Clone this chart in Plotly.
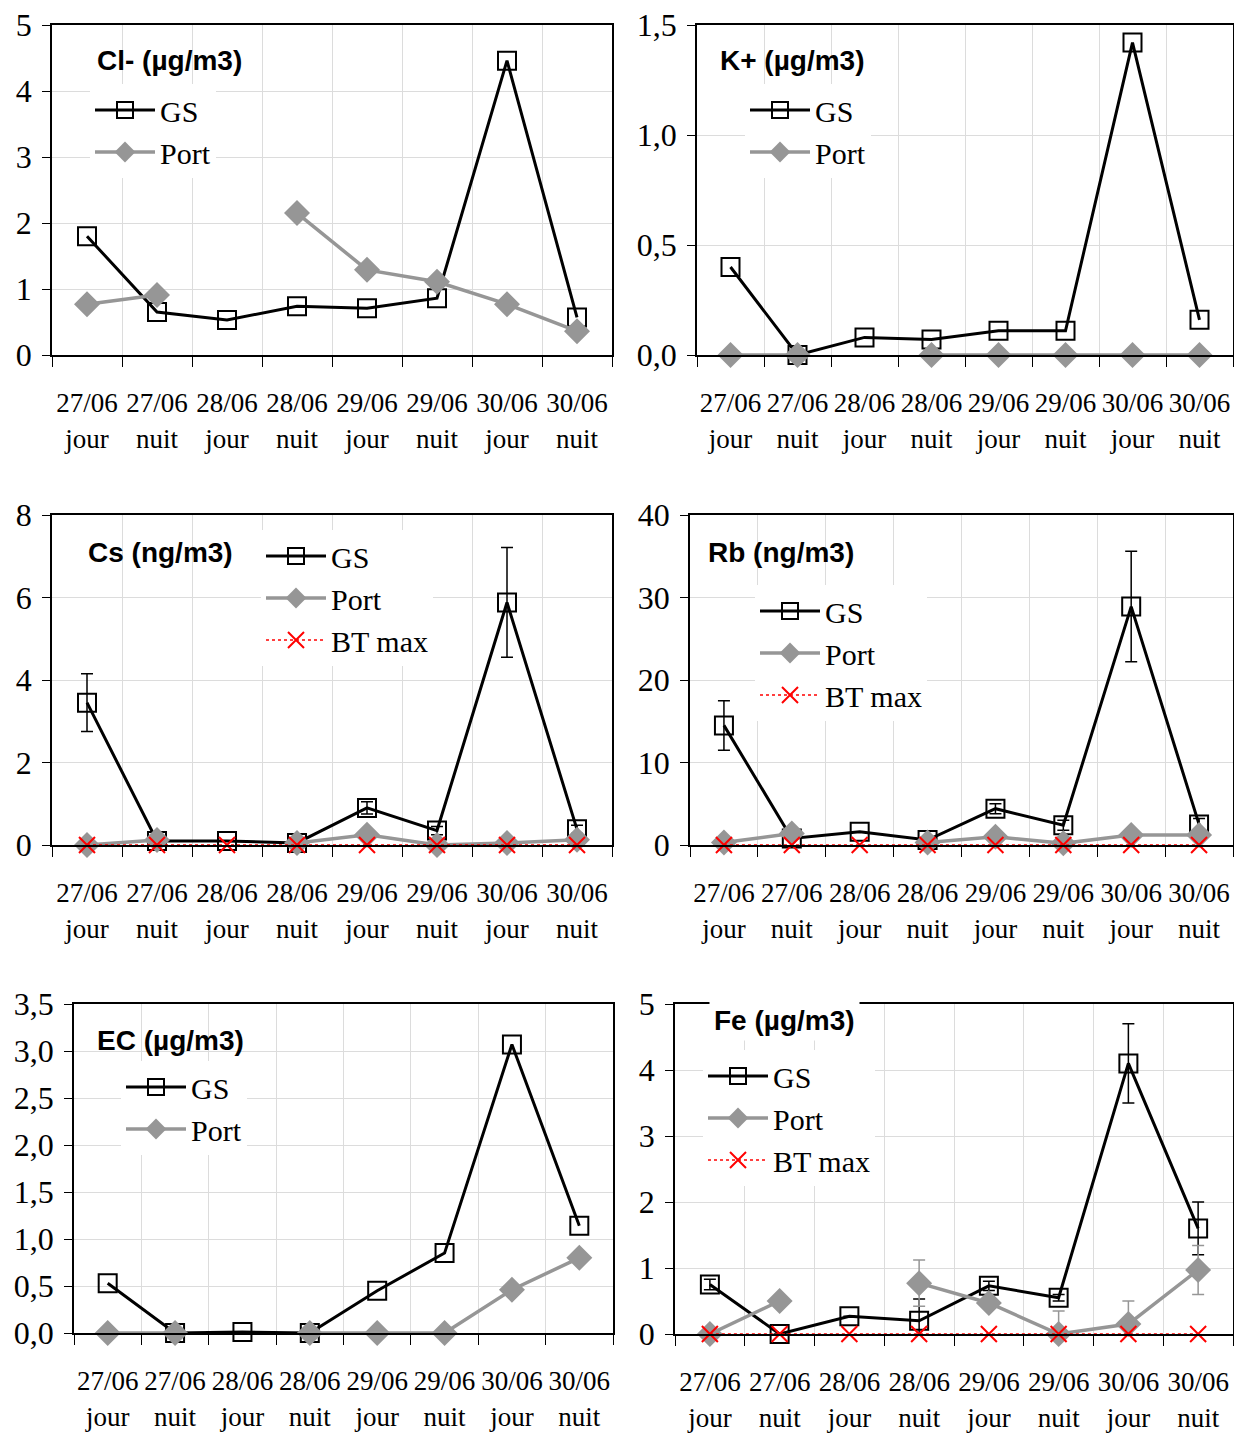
import plotly.graph_objects as go

W, H = 1234, 1437

categories = ["27/06<br>jour", "27/06<br>nuit", "28/06<br>jour", "28/06<br>nuit",
              "29/06<br>jour", "29/06<br>nuit", "30/06<br>jour", "30/06<br>nuit"]

# Cl- (µg/m3)
cl_gs = [1.80, 0.65, 0.53, 0.74, 0.71, 0.86, 4.46, 0.57]
cl_port = [0.77, 0.91, None, 2.15, 1.29, 1.11, 0.77, 0.36]

# K+ (µg/m3)
k_gs = [0.40, 0.00, 0.08, 0.07, 0.11, 0.11, 1.42, 0.16]
k_port = [0.0, 0.0, None, 0.0, 0.0, 0.0, 0.0, 0.0]

# Cs (ng/m3)
cs_gs = [3.45, 0.10, 0.10, 0.05, 0.90, 0.35, 5.88, 0.38]
cs_gs_err = [0.70, None, None, None, 0.15, 0.10, 1.33, 0.10]
cs_port = [0.0, 0.12, None, 0.05, 0.25, 0.0, 0.05, 0.13]
cs_bt = [0, 0, 0, 0, 0, 0, 0, 0]

# Rb (ng/m3)
rb_gs = [14.5, 0.8, 1.6, 0.6, 4.4, 2.4, 28.9, 2.5]
rb_gs_err = [3.0, None, None, None, 0.6, 0.6, 6.7, 0.7]
rb_port = [0.3, 1.4, None, 0.3, 1.0, 0.2, 1.2, 1.2]
rb_bt = [0, 0, 0, 0, 0, 0, 0, 0]

# EC (µg/m3)
ec_gs = [0.53, 0.0, 0.01, 0.0, 0.45, 0.85, 3.07, 1.14]
ec_port = [0.0, 0.0, None, 0.0, 0.0, 0.0, 0.46, 0.80]

# Fe (µg/m3)
fe_gs = [0.75, 0.0, 0.27, 0.20, 0.73, 0.55, 4.10, 1.60]
fe_gs_err = [0.08, None, None, 0.33, 0.07, 0.05, 0.60, 0.40]
fe_port = [0.0, 0.50, None, 0.77, 0.47, 0.0, 0.15, 0.97]
fe_port_err = [None, None, None, 0.35, None, 0.35, 0.35, 0.37]
fe_bt = [0, 0, 0, 0, 0, 0, 0, 0]

BLACK = "#000000"
GRAY = "#969696"
RED = "#ff0000"
GRID = "#dcdcdc"
SERIF = "Liberation Serif"
SANS = "Liberation Sans"

# pixel layout of the six panels: (left, right, top, bottom)
panels = [
    (52, 612, 25, 355),
    (697, 1233, 25, 355),
    (52, 612, 515, 845),
    (690, 1233, 515, 845),
    (74, 613, 1004, 1333),
    (675, 1233, 1004, 1334),
]

fig = go.Figure()


def px_x(v):
    return v / W


def px_y(v):
    return 1 - v / H


def add_panel(i, title, gs, port, bt, yrange, dtick, tickfmt, legpos, titlepos,
              gs_err=None, port_err=None, title_bg=None):
    n = i + 1
    xa = "x" if n == 1 else f"x{n}"
    ya = "y" if n == 1 else f"y{n}"
    leg = "legend" if n == 1 else f"legend{n}"
    l, r, t, b = panels[i]
    xaxis_name = "xaxis" if n == 1 else f"xaxis{n}"
    yaxis_name = "yaxis" if n == 1 else f"yaxis{n}"

    gs_kw = {}
    if gs_err is not None:
        gs_kw["error_y"] = dict(type="data", array=gs_err, visible=True,
                                color=BLACK, thickness=1.5, width=6)
    fig.add_trace(go.Scatter(
        x=categories, y=gs, name="GS", mode="lines+markers",
        line=dict(color=BLACK, width=3),
        marker=dict(symbol="square-open", size=18, color=BLACK,
                    line=dict(color=BLACK, width=2)),
        xaxis=xa, yaxis=ya, legend=leg, cliponaxis=False, **gs_kw))

    port_kw = {}
    if port_err is not None:
        port_kw["error_y"] = dict(type="data", array=port_err, visible=True,
                                  color=GRAY, thickness=1.5, width=6)
    fig.add_trace(go.Scatter(
        x=categories, y=port, name="Port", mode="lines+markers",
        line=dict(color=GRAY, width=3.5),
        marker=dict(symbol="diamond", size=20, color=GRAY),
        xaxis=xa, yaxis=ya, legend=leg, cliponaxis=False, **port_kw))

    if bt is not None:
        fig.add_trace(go.Scatter(
            x=categories, y=bt, name="BT max", mode="lines+markers",
            line=dict(color=RED, width=1.5, dash="dot"),
            marker=dict(symbol="x-thin", size=16, color=RED,
                        line=dict(color=RED, width=2)),
            xaxis=xa, yaxis=ya, legend=leg, cliponaxis=False))

    fig.layout[xaxis_name] = dict(
        domain=[px_x(l), px_x(r)], anchor=ya, type="category",
        range=[-0.5, 7.5], tickson="boundaries", ticks="outside",
        ticklen=10, tickwidth=1.2, tickcolor=BLACK, tickangle=0,
        showgrid=True, gridcolor=GRID, gridwidth=1,
        showline=True, linecolor=BLACK, linewidth=2, mirror=True,
        zeroline=False, ticklabelstandoff=23, automargin=False,
        tickfont=dict(family=SERIF, size=27, color=BLACK))
    fig.layout[yaxis_name] = dict(
        domain=[px_y(b), px_y(t)], anchor=xa, range=yrange, dtick=dtick,
        tick0=0, tickformat=tickfmt, ticks="outside", ticklen=8,
        tickwidth=1.2, tickcolor=BLACK,
        showgrid=True, gridcolor=GRID, gridwidth=1,
        showline=True, linecolor=BLACK, linewidth=1.5, mirror=True,
        zeroline=False, ticklabelstandoff=4, automargin=False,
        tickfont=dict(family=SERIF, size=32, color=BLACK))

    fig.layout[leg] = dict(
        x=px_x(legpos[0]), y=px_y(legpos[1]), xanchor="left", yanchor="top",
        xref="paper", yref="paper",
        bgcolor="white", borderwidth=0, itemwidth=60, tracegroupgap=0,
        font=dict(family=SERIF, size=30, color=BLACK))

    ann = dict(text=f"<b>{title}</b>", x=px_x(titlepos[0]), y=px_y(titlepos[1]),
               xref="paper", yref="paper", xanchor="left", yanchor="middle",
               showarrow=False, font=dict(family=SANS, size=28, color=BLACK))
    if title_bg:
        ann.update(bgcolor="white", borderpad=4)
    fig.add_annotation(**ann)


add_panel(0, "Cl- (µg/m3)", cl_gs, cl_port, None, [0, 5], 1, "d",
          (90, 84), (95, 60))
add_panel(1, "K+ (µg/m3)", k_gs, k_port, None, [0, 1.5], 0.5, ".1f",
          (745, 84), (718, 60))
add_panel(2, "Cs (ng/m3)", cs_gs, cs_port, cs_bt, [0, 8], 2, "d",
          (261, 530), (86, 552), gs_err=cs_gs_err)
add_panel(3, "Rb (ng/m3)", rb_gs, rb_port, rb_bt, [0, 40], 10, "d",
          (755, 585), (706, 552), gs_err=rb_gs_err)
add_panel(4, "EC (µg/m3)", ec_gs, ec_port, None, [0, 3.5], 0.5, ".1f",
          (121, 1061), (95, 1040))
add_panel(5, "Fe (µg/m3)", fe_gs, fe_port, fe_bt, [0, 5], 1, "d",
          (703, 1050), (709, 1020), gs_err=fe_gs_err, port_err=fe_port_err,
          title_bg=True)

fig.update_layout(
    width=W, height=H, margin=dict(l=0, r=0, t=0, b=0),
    paper_bgcolor="white", plot_bgcolor="white",
    separators=", ", showlegend=True,
    font=dict(family=SERIF, color=BLACK),
)

fig.write_html("out.html",
               config={"displayModeBar": False},
               post_script="document.body.style.margin='0px';"
                           "document.body.style.overflow='hidden';")
